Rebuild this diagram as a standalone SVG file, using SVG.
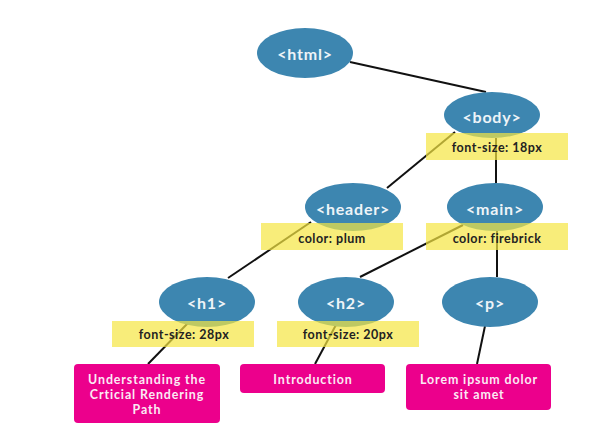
<svg xmlns="http://www.w3.org/2000/svg" width="616" height="440" viewBox="0 0 616 440">
<style>
.node ellipse{fill:#3d86b0}
.node text.t{font-family:"Lato","Open Sans",sans-serif;font-weight:700;font-size:16px;letter-spacing:0.8px;fill:#eef4f8;text-anchor:middle;dominant-baseline:central}
.note rect{fill:#f5e642;fill-opacity:0.7}
.note text{font-family:"Lato","Open Sans",sans-serif;font-weight:700;font-size:12.5px;letter-spacing:0.5px;fill:#222;text-anchor:middle;dominant-baseline:central}
.leaf rect{fill:#ec008c}
.leaf text{font-family:"Lato","Open Sans",sans-serif;font-weight:700;font-size:12.4px;letter-spacing:0.9px;fill:#fbeaf4;text-anchor:middle;dominant-baseline:central}
.edges line{stroke:#111;stroke-width:2}
</style>
<rect width="616" height="440" fill="#fff"/>
<g class="edges">
<line x1="350" y1="62" x2="486" y2="92"/>
<line x1="455" y1="132" x2="387" y2="188"/>
<line x1="496" y1="138" x2="496" y2="183"/>
<line x1="311" y1="222" x2="228" y2="278"/>
<line x1="463" y1="225" x2="360" y2="277"/>
<line x1="497" y1="231" x2="497" y2="277"/>
<line x1="188" y1="323" x2="148" y2="364"/>
<line x1="337" y1="323" x2="315" y2="364"/>
<line x1="485" y1="326" x2="477" y2="364"/>
</g>
<g id="html" class="node"><ellipse cx="305" cy="53" rx="48" ry="25"/><text class="t" x="305" y="53">&lt;html&gt;</text></g>
<g id="body" class="node"><ellipse cx="492" cy="115" rx="48" ry="23"/><text class="t" x="492" y="116">&lt;body&gt;</text></g>
<g id="header" class="node"><ellipse cx="353" cy="207" rx="48" ry="24"/><text class="t" x="353" y="208">&lt;header&gt;</text></g>
<g id="main" class="node"><ellipse cx="495" cy="207" rx="48" ry="24"/><text class="t" x="495" y="208">&lt;main&gt;</text></g>
<g id="h1" class="node"><ellipse cx="207" cy="302" rx="48" ry="25"/><text class="t" x="207" y="302">&lt;h1&gt;</text></g>
<g id="h2" class="node"><ellipse cx="346" cy="302" rx="48" ry="25"/><text class="t" x="346" y="302">&lt;h2&gt;</text></g>
<g id="p" class="node"><ellipse cx="490" cy="302" rx="48" ry="25"/><text class="t" x="490" y="302">&lt;p&gt;</text></g>
<g id="note-body" class="note"><rect x="426" y="133" width="142" height="27"/><text x="497" y="147">font-size: 18px</text></g>
<g id="note-header" class="note"><rect x="261" y="223" width="142" height="27"/><text x="332" y="238">color: plum</text></g>
<g id="note-main" class="note"><rect x="426" y="223" width="142" height="27"/><text x="497" y="238">color: firebrick</text></g>
<g id="note-h1" class="note"><rect x="112" y="321" width="142" height="26"/><text x="184" y="334">font-size: 28px</text></g>
<g id="note-h2" class="note"><rect x="277" y="321" width="142" height="26"/><text x="348" y="334">font-size: 20px</text></g>
<g id="leaf-h1" class="leaf"><rect x="74" y="364" width="146" height="59" rx="4"/><text x="147" y="379">Understanding the</text><text x="147" y="394">Crticial Rendering</text><text x="147" y="409">Path</text></g>
<g id="leaf-h2" class="leaf"><rect x="240" y="364" width="145" height="29" rx="4"/><text x="313" y="379">Introduction</text></g>
<g id="leaf-p" class="leaf"><rect x="406" y="364" width="145" height="46" rx="4"/><text x="479" y="379">Lorem ipsum dolor</text><text x="479" y="394">sit amet</text></g>
</svg>
